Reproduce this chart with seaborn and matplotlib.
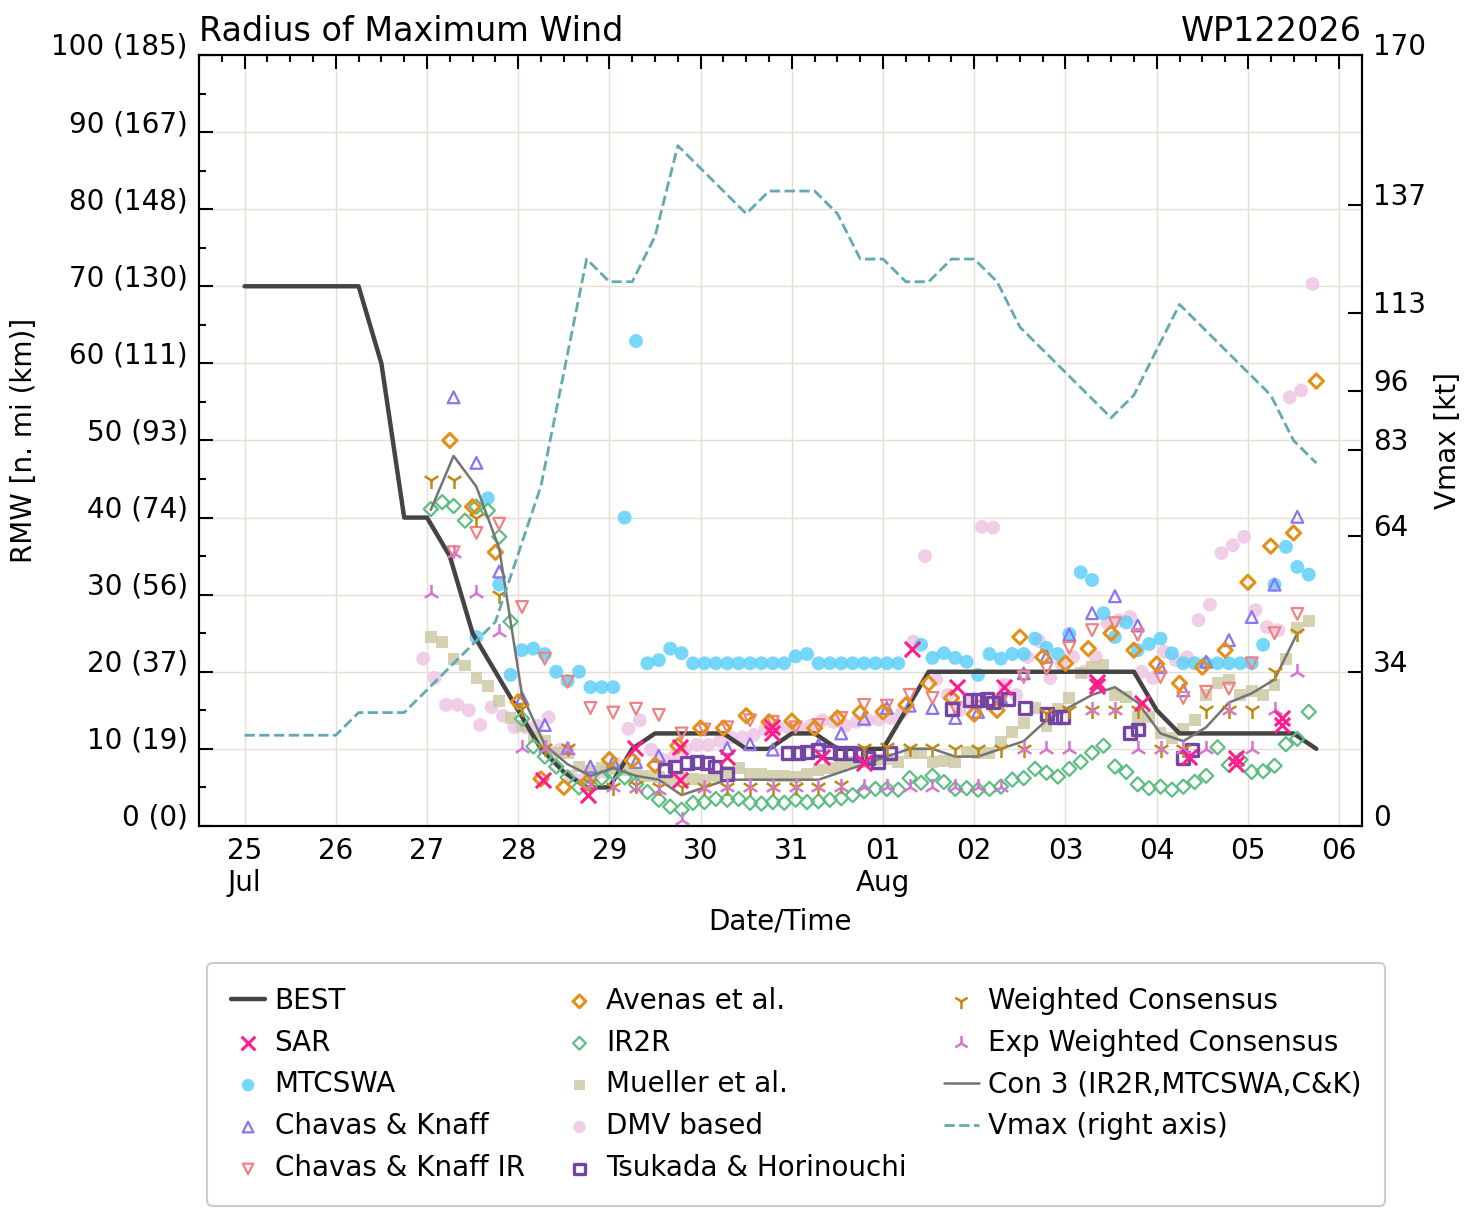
import pandas as pd
import numpy as np
import matplotlib
matplotlib.use('Agg')
import matplotlib.pyplot as plt
import matplotlib.dates as mdates
from matplotlib.ticker import MultipleLocator
import seaborn as sns

# time is hours after 25 Jul 2026 00Z
base = pd.Timestamp('2026-07-25 00:00')

# BEST track and Vmax (6-hourly)
best_hours = list(range(0, 283, 6))
best_rmw = [70, 70, 70, 70, 70, 70, 60, 40, 40, 35,
            25, 20, 15, 10, 7, 5, 5, 10, 12, 12,
            12, 12, 10, 10, 12, 12, 10, 10, 10, 15,
            20, 20, 20, 20, 20, 20, 20, 20, 20, 20,
            15, 12, 12, 12, 12, 12, 12, 10]
vmax_kt = [20, 20, 20, 20, 20, 25, 25, 25, 30, 35,
           40, 45, 60, 75, 100, 125, 120, 120, 130, 150,
           145, 140, 135, 140, 140, 140, 135, 125, 125, 120,
           120, 125, 125, 120, 110, 105, 100, 95, 90, 95,
           105, 115, 110, 105, 100, 95, 85, 80]

# SAR
sar_hours = [78.5, 90.3, 102.7, 114.6, 114.6, 127, 138.8, 138.8, 152, 163, 175.7,
             187.5, 199.7, 224.4, 224.4, 236, 248.6, 260.8, 260.8, 273, 273]
sar_rmw = [6, 4, 10.1, 10.2, 6, 9, 12.8, 12, 9, 8.2, 23,
           18, 18, 18.7, 18.2, 16, 9, 8.8, 8.1, 14, 13.1]

# MTCSWA
mtc_hours = [61, 64, 67, 70, 73, 76, 79, 82, 85, 88, 91, 94, 97, 100, 103, 106, 109, 112,
             115, 118, 121, 124, 127, 130, 133, 136, 139, 142, 145, 148, 151, 154, 157,
             160, 163, 166, 169, 172, 178, 181, 184, 187, 190, 193, 196, 199, 202, 205,
             208, 211, 214, 217, 220, 223, 226, 229, 232, 235, 238, 241, 244, 247, 250,
             253, 256, 259, 262, 265, 268, 271, 274, 277, 280]
mtc_rmw = [24.5, 42.5, 31.3, 19.6, 22.8, 23, 22.3, 20, 18.8, 20, 18, 18, 18, 40, 62.9, 21.1, 21.5, 23,
           22.4, 21.1, 21.1, 21.1, 21.1, 21.1, 21.1, 21.1, 21.1, 21.1, 22, 22.3, 21.1, 21.1, 21.1,
           21.1, 21.1, 21.1, 21.1, 21.1, 23.5, 21.8, 22.4, 21.8, 21.3, 19.6, 22.3, 21.7, 22.3, 22.3,
           24.3, 23.1, 22.3, 24.9, 32.9, 31.9, 27.6, 24.5, 26.4, 22.8, 23.6, 24.3, 22.4, 21.1, 21.1,
           21.1, 21.1, 21.1, 21.1, 21.1, 23.5, 31.3, 36.2, 33.6, 32.6]

# Chavas & Knaff
ck_hours = [55, 61, 67, 73, 79, 85, 91, 97, 103, 109, 127, 133, 139,
            151, 157, 163, 169, 175, 181, 187, 193, 199, 205, 211, 217,
            223, 229, 235, 241, 247, 253, 259, 265, 271, 277]
ck_rmw = [55.6, 47.1, 33, 16.6, 13.1, 10.1, 7.7, 8.3, 8.3, 9.1, 10.1, 10.6, 9.9,
          10.5, 12, 13.9, 15.3, 15.6, 15.3, 14, 14.8, 16.7, 19.8, 22, 24.8,
          27.6, 29.8, 26, 20.6, 17.6, 21.3, 24.1, 27.1, 31.3, 40.1]

# Chavas & Knaff IR
ckir_hours = list(range(55, 278, 6))
ckir_rmw = [35.5, 38, 39.2, 28.4, 21.7, 18.7, 15.3, 14.7, 15.2, 14.4,
            12, 12.5, 12.8, 13.7, 13.5, 12.8, 13.1, 14, 15.7, 15.6,
            17, 16.6, 15.3, 15.4, 16.1, 19.3, 20.4, 23.1, 25.4, 26.3,
            24.8, 19.3, 16.6, 17.4, 17.8, 21.1, 25, 27.5]

# Avenas et al.
av_hours = list(range(54, 283, 6))
av_rmw = [50, 41.4, 35.5, 16.1, 6.1, 5, 5.6, 8.6, 8.5, 7.9,
          10.4, 12.7, 12.7, 14.3, 13.5, 13.6, 12.7, 14, 14.7, 14.8,
          15.7, 18.5, 16.6, 14.5, 15, 24.5, 21.9, 21.1, 23, 25,
          22.8, 21, 18.5, 20.6, 22.8, 31.6, 36.3, 38, 57.7]

# IR2R
ir2r_hours = list(range(49, 281, 3))
ir2r_rmw = [41.1, 42, 41.5, 39.6, 41.4, 40.9, 37.5, 26.5, 13.9, 10.3,
            9, 7.7, 6.3, 5, 5.3, 6.2, 6.9, 6.3, 5.4, 4.4,
            3.4, 2.5, 2.1, 3, 3.1, 3.5, 3.4, 3.5, 3, 2.9,
            3.1, 3, 3.4, 3.1, 3.2, 3.4, 3.6, 4, 4.5, 4.8,
            4.8, 4.7, 6.2, 5.6, 6.5, 5.7, 4.8, 4.9, 4.7, 4.8,
            5.1, 6, 6.2, 7.4, 6.9, 6.4, 7.4, 8.3, 9.5, 10.4,
            7.7, 7, 5.4, 4.9, 5.1, 4.7, 5.1, 5.7, 6.5, 10.2,
            7.9, 8.6, 7, 7.1, 7.8, 10.6, 11.3, 14.8]

# Mueller et al.
mue_hours = list(range(49, 281, 3))
mue_rmw = [24.5, 23.9, 21.7, 20.8, 19.2, 18.2, 16.2, 14, 13, 11.5,
           11, 9.5, 9.5, 7.7, 7.1, 7.5, 7.4, 7.3, 6.7, 6.5,
           6.3, 6, 6.2, 6.1, 6, 6.5, 7, 7.5, 6.7, 6.7,
           6.5, 6.5, 6.4, 6.7, 7.3, 7.5, 7.7, 8.3, 8.3, 8.6,
           8.7, 8.3, 9.5, 9.5, 8.3, 8.4, 8.3, 9.6, 9.5, 9.5,
           10.9, 12.2, 13.4, 15.3, 13, 15.2, 16.6, 19.8, 20.6, 20.9,
           17, 16.7, 14.1, 14.1, 12.1, 11.4, 12.6, 13.7, 17, 18.5,
           18.9, 17, 17.5, 17, 18.3, 21.7, 25.7, 26.6]

# DMV based
dmv_hours = list(range(47, 282, 3))
dmv_rmw = [21.7, 19.2, 15.7, 15.7, 15, 13.1, 15.4, 14.3, 12.8, 12.8,
           13, 14.1, 9.9, 6.4, 6, 6.5, 7, 8, 12.6, 13.7,
           9.9, 8.6, 9, 10, 10.5, 10.5, 11, 11.5, 11.5, 11.8,
           12.5, 12.8, 12.8, 12.7, 13, 13.7, 13.5, 13, 13.5, 13.7,
           13.8, 14, 14.7, 23.9, 35, 19, 17, 15, 16, 38.8,
           38.7, 18.3, 17, 21.9, 24, 19.2, 21, 21.9, 20, 21.9,
           26.3, 26.7, 27.1, 20, 19.2, 22.6, 21.5, 21.9, 26.7, 28.7,
           35.4, 36.4, 37.5, 28, 25.8, 25.4, 55.6, 56.5, 70.3]

# Tsukada & Horinouchi
th_hours = [110.6, 113.2, 116.4, 119, 121.6, 123.8, 126.9,
            143, 145.6, 148, 150.9, 154, 156.7, 159.3, 161.9, 164, 166.7, 169.8,
            186.2, 190.9, 193, 195.4, 197, 200.9, 205.4, 211.2, 213.3, 215.4,
            233, 235.1, 247, 249.3]
th_rmw = [7.3, 7.7, 8.2, 8.3, 8.2, 7.7, 6.7,
          9.5, 9.5, 9.6, 9.9, 9.6, 9.5, 9.5, 9.2, 8.8, 8.3, 9.5,
          15.2, 16.3, 16.3, 16.5, 16, 16.5, 15.3, 14.5, 14.1, 14.1,
          12.1, 12.5, 8.8, 9.9]

# consensus products (6-hourly)
cons_hours = list(range(49, 278, 6))
wcons_rmw = [44.9, 44.9, 39.9, 30, 15.3, 10.1, 10.1, 5.6, 5, 5.3,
             5, 5, 5, 5, 5, 5, 5, 5, 5.3, 10.1,
             10.2, 10.1, 10.1, 10, 10, 10, 10, 14.7, 15, 15,
             15, 15, 10, 10, 15, 15, 15, 20, 25]
ewcons_rmw = [30.2, 35.4, 30.2, 25.2, 10.1, 10.1, 9.9, 5.3, 5, 4.9,
              4.7, 0.8, 4.9, 5, 5, 5, 5, 5, 5, 5,
              5, 5, 5, 5, 5, 5, 10, 10, 10, 15,
              15, 10, 10, 10, 10, 15, 10, 15, 20]
con3_rmw = [41, 48, 44, 36, 17, 10.5, 8, 6.5, 7.5, 6.5,
            6, 4, 5, 6, 6, 6, 6, 6, 7, 8,
            9, 10, 10, 9, 9, 10, 11, 13.7, 15.4, 17,
            18, 16, 12, 11, 12.8, 16, 17.2, 19, 25]

day_labels = ['25\nJul', '26', '27', '28', '29', '30', '31',
              '01\nAug', '02', '03', '04', '05', '06']
rmw_ticks = [0, 10, 20, 30, 40, 50, 60, 70, 80, 90, 100]
rmw_labels = ['0 (0)', '10 (19)', '20 (37)', '30 (56)', '40 (74)', '50 (93)',
              '60 (111)', '70 (130)', '80 (148)', '90 (167)', '100 (185)']
vmax_ticks = [0, 34, 64, 83, 96, 113, 137, 170]

FS = 20


def frame(hours, values):
    return pd.DataFrame({'time': base + pd.to_timedelta(hours, unit='h'), 'rmw': values})


sns.set_theme(style='white')
plt.rcParams['font.family'] = ['DejaVu Sans']
plt.rcParams['font.size'] = FS
plt.rcParams['text.color'] = 'black'
plt.rcParams['axes.labelcolor'] = 'black'
plt.rcParams['xtick.color'] = 'black'
plt.rcParams['ytick.color'] = 'black'
plt.rcParams['axes.edgecolor'] = 'black'
plt.rcParams['axes.linewidth'] = 1.5

fig = plt.figure(figsize=(14.77, 12.22), dpi=100)
ax = fig.add_axes([0.1347, 0.3241, 0.7874, 0.6309])
ax2 = ax.twinx()

# pale background estimates
sns.scatterplot(data=frame(dmv_hours, dmv_rmw), x='time', y='rmw', ax=ax, legend=False,
                marker='o', s=100, color='#efc6e4', edgecolor='none', alpha=0.85,
                label='DMV based', zorder=2)
sns.scatterplot(data=frame(mue_hours, mue_rmw), x='time', y='rmw', ax=ax, legend=False,
                marker='s', s=72, color='#cdcaa6', edgecolor='none', alpha=0.85,
                label='Mueller et al.', zorder=2.1)
sns.scatterplot(data=frame(mtc_hours, mtc_rmw), x='time', y='rmw', ax=ax, legend=False,
                marker='o', s=100, color='#5fd0fa', edgecolor='none', alpha=0.85,
                label='MTCSWA', zorder=2.2)

sns.lineplot(data=frame(best_hours, best_rmw), x='time', y='rmw', ax=ax, legend=False,
             color='#444444', lw=3.2, label='BEST', estimator=None, sort=False, zorder=2.5)

# open markers
sns.scatterplot(data=frame(ir2r_hours, ir2r_rmw), x='time', y='rmw', ax=ax, legend=False,
                marker='D', s=52, color='#5dbd83', facecolors='none', edgecolor='#5dbd83',
                linewidth=1.6, label='IR2R', zorder=3)
sns.scatterplot(data=frame(ck_hours, ck_rmw), x='time', y='rmw', ax=ax, legend=False,
                marker='^', s=72, color='#8a74f0', facecolors='none', edgecolor='#8a74f0',
                linewidth=1.6, label='Chavas & Knaff', zorder=3)
sns.scatterplot(data=frame(ckir_hours, ckir_rmw), x='time', y='rmw', ax=ax, legend=False,
                marker='v', s=72, color='#ee8383', facecolors='none', edgecolor='#ee8383',
                linewidth=1.6, label='Chavas & Knaff IR', zorder=3)
sns.scatterplot(data=frame(av_hours, av_rmw), x='time', y='rmw', ax=ax, legend=False,
                marker='D', s=52, color='#e38f18', facecolors='none', edgecolor='#e38f18',
                linewidth=2.2, label='Avenas et al.', zorder=3.1)

sns.lineplot(data=frame(cons_hours, con3_rmw), x='time', y='rmw', ax=ax, legend=False,
             color='#747474', lw=1.8, label='Con 3 (IR2R,MTCSWA,C&K)', estimator=None,
             sort=False, zorder=3.2)

sns.scatterplot(data=frame(th_hours, th_rmw), x='time', y='rmw', ax=ax, legend=False,
                marker='s', s=72, color='#7545a4', facecolors='none', edgecolor='#7545a4',
                linewidth=2.4, label='Tsukada & Horinouchi', zorder=3.3)
sns.scatterplot(data=frame(cons_hours, wcons_rmw), x='time', y='rmw', ax=ax, legend=False,
                marker='1', s=150, color='#bf8a12', linewidth=1.8,
                label='Weighted Consensus', zorder=3.4)
sns.scatterplot(data=frame(cons_hours, ewcons_rmw), x='time', y='rmw', ax=ax, legend=False,
                marker='2', s=150, color='#d673d3', linewidth=1.8,
                label='Exp Weighted Consensus', zorder=3.4)
sns.scatterplot(data=frame(sar_hours, sar_rmw), x='time', y='rmw', ax=ax, legend=False,
                marker='x', s=120, color='#ff1d8e', linewidth=2.2, label='SAR', zorder=4)

sns.lineplot(data=frame(best_hours, vmax_kt), x='time', y='rmw', ax=ax2, legend=False,
             color='#63a9b1', lw=2.0, ls='--', label='Vmax (right axis)', estimator=None,
             sort=False)

# axes, ticks, grid
ax.set_xlim(base - pd.Timedelta(hours=12), base + pd.Timedelta(hours=294))
ax.set_ylim(0, 100)
ax2.set_ylim(0, 170)
ax.set_xticks([base + pd.Timedelta(days=d) for d in range(13)])
ax.set_xticklabels(day_labels)
ax.xaxis.set_minor_locator(mdates.HourLocator(byhour=[6, 12, 18]))
ax.set_yticks(rmw_ticks)
ax.set_yticklabels(rmw_labels)
ax.yaxis.set_minor_locator(MultipleLocator(5))
ax2.set_yticks(vmax_ticks)
ax2.set_yticklabels([str(v) for v in vmax_ticks])

ax.tick_params(axis='both', which='both', direction='in', top=True, right=False,
               labelsize=FS, pad=8, width=1.5, colors='black')
ax.tick_params(which='major', length=10)
ax.tick_params(which='minor', length=5)
ax2.tick_params(axis='y', which='major', direction='in', length=10, width=1.5,
                labelsize=FS, pad=8, colors='black')
for lab in ax.get_yticklabels() + ax2.get_yticklabels():
    lab.set_va('baseline')

ax.set_axisbelow(True)
ax.grid(True, which='major', color='#e4ded3', lw=1.0)
for sp in list(ax.spines.values()) + list(ax2.spines.values()):
    sp.set_color('black')
    sp.set_linewidth(1.5)

ax.set_title('Radius of Maximum Wind', loc='left', fontsize=24, pad=10, color='black')
ax.set_title('WP122026', loc='right', fontsize=24, pad=10, color='black')
ax.set_xlabel('Date/Time', fontsize=FS, labelpad=7)
ax.set_ylabel('RMW [n. mi (km)]', fontsize=FS, labelpad=10)
ax2.set_ylabel('Vmax [kt]', fontsize=FS, labelpad=6)

# legend in the original order, three columns
order = ['BEST', 'SAR', 'MTCSWA', 'Chavas & Knaff', 'Chavas & Knaff IR',
         'Avenas et al.', 'IR2R', 'Mueller et al.', 'DMV based', 'Tsukada & Horinouchi',
         'Weighted Consensus', 'Exp Weighted Consensus', 'Con 3 (IR2R,MTCSWA,C&K)',
         'Vmax (right axis)']
h1, l1 = ax.get_legend_handles_labels()
h2, l2 = ax2.get_legend_handles_labels()
lookup = dict(zip(l1 + l2, h1 + h2))
leg = fig.legend([lookup[k] for k in order], order, loc='upper center',
                 bbox_to_anchor=(0.539, 0.2119), borderaxespad=0, ncol=3,
                 fontsize=FS, frameon=True, fancybox=True, edgecolor='#cccccc',
                 framealpha=1, borderpad=0.85, labelspacing=0.5, handlelength=1.25,
                 handletextpad=0.33, columnspacing=1.35, markerscale=0.9)
leg.get_frame().set_linewidth(1.5)

fig.savefig('out.png', dpi=100)
